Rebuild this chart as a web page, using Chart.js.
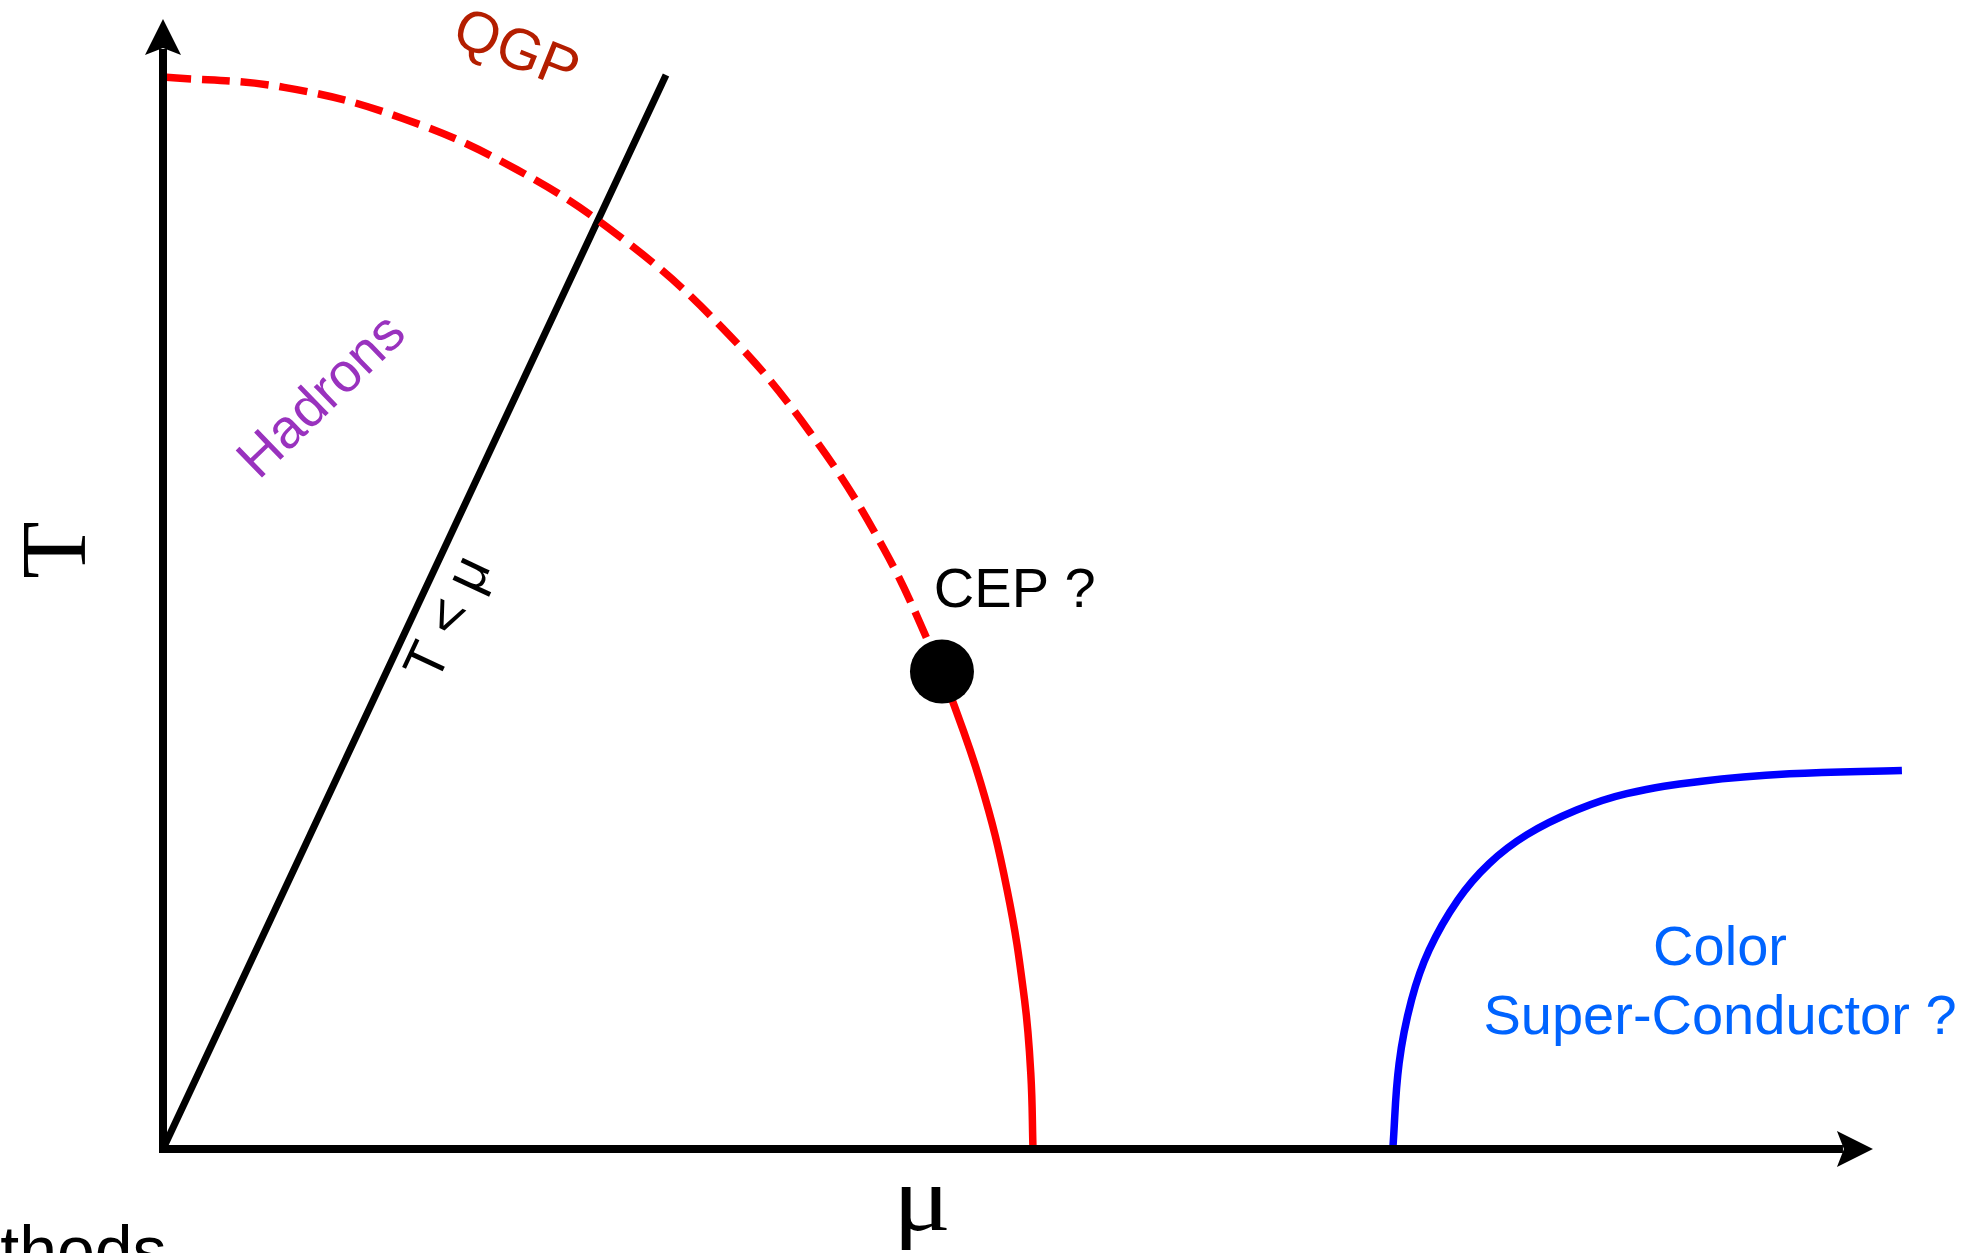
<!DOCTYPE html>
<html>
<head>
<meta charset="utf-8">
<title>QCD phase diagram</title>
<script src="https://cdn.jsdelivr.net/npm/chart.js@4/dist/chart.umd.min.js"></script>
<style>
  html, body { margin: 0; padding: 0; background: #ffffff; overflow: hidden; }
  #wrap { position: relative; width: 1962px; height: 1253px; }
</style>
</head>
<body>
<div id="wrap"><canvas id="phase" width="1962" height="1253"></canvas></div>
<script>
// Crossover line (dashed), from mu = 0 down to the critical end point
const crossoverMu = [0, 6.73, 13.33, 19.67, 25.63, 31.09, 35.94, 40.09, 43.30];
const crossoverT  = [94.87, 93.95, 91.20, 86.67, 80.45, 72.67, 63.48, 53.05, 42.25];

// First-order transition line (solid), from the critical end point to T = 0
const firstOrderMu = [43.30, 45.44, 46.92, 47.89, 48.24, 48.36];
const firstOrderT  = [42.25, 32.45, 22.95, 13.21, 6.62, 0];

// Critical end point
const cepMu = [43.30];
const cepT  = [42.25];

// T = mu reference line
const diagMu = [0, 27.96];
const diagT  = [0, 95.04];

// Colour super-conductor boundary
const cscMu = [68.36, 68.71, 69.40, 70.38, 71.98, 73.71, 75.80, 78.58, 81.36, 85.54, 90.41, 96.66];
const cscT  = [0, 7.58, 13.19, 17.61, 22.05, 25.25, 27.8, 30.0, 31.45, 32.55, 33.2, 33.5];

// Axis extents (arrow tips)
const axisMuEnd = 95.05;
const axisTEnd = 100;

function pts(xs, ys) { return xs.map((x, i) => ({ x: x, y: ys[i] })); }

const SANS = '"Liberation Sans", Arial, Helvetica, sans-serif';
const SERIF = '"Liberation Serif", "Times New Roman", serif';

// Text annotations, anchored in (mu, T) coordinates
const annotations = [
  { text: 'QGP', mu: 19.6, t: 97.1, angle: 22, color: '#b41e00', font: '58px ' + SANS, align: 'center', base: 'middle' },
  { text: 'Hadrons', mu: 8.89, t: 66.5, angle: -44, color: '#9932be', font: '55px ' + SANS, align: 'center', base: 'middle' },
  { text: 'T < \u03bc', mu: 15.95, t: 46.9, angle: -65, color: '#000000', font: '56px ' + SANS, align: 'center', base: 'middle' },
  { text: 'CEP ?', mu: 42.85, t: 48.0, angle: 0, color: '#000000', font: '56px ' + SANS, align: 'left', base: 'alphabetic' },
  { text: 'Color', mu: 86.55, t: 16.25, angle: 0, color: '#0064ff', font: '56px ' + SANS, align: 'center', base: 'alphabetic' },
  { text: 'Super-Conductor ?', mu: 86.55, t: 10.2, angle: 0, color: '#0064ff', font: '56px ' + SANS, align: 'center', base: 'alphabetic' },
  { text: 'T', mu: -5.7, t: 53.0, angle: -90, color: '#000000', font: '94px ' + SERIF, align: 'center', base: 'middle' },
  { text: '\u03bc', mu: 42.19, t: -7.2, angle: 0, color: '#000000', font: '94px ' + SERIF, align: 'center', base: 'alphabetic', stretch: 1.15 },
  { text: 'Methods', mu: 0.2, t: -11.06, angle: 0, color: '#000000', font: '68px ' + SANS, align: 'right', base: 'alphabetic' }
];

// Axes with arrow heads, and the text labels
const axesAndLabels = {
  id: 'axesAndLabels',
  afterDatasetsDraw(chart) {
    const ctx = chart.ctx;
    const xs = chart.scales.x, ys = chart.scales.y;
    const ox = xs.getPixelForValue(0), oy = ys.getPixelForValue(0);
    const xTip = xs.getPixelForValue(axisMuEnd), yTip = ys.getPixelForValue(axisTEnd);
    ctx.save();
    ctx.strokeStyle = '#000';
    ctx.fillStyle = '#000';
    ctx.lineWidth = 8;
    ctx.lineCap = 'butt';
    // T axis
    ctx.beginPath();
    ctx.moveTo(ox, oy + 4);
    ctx.lineTo(ox, yTip + 30);
    ctx.stroke();
    ctx.beginPath();
    ctx.moveTo(ox, yTip);
    ctx.lineTo(ox + 18, yTip + 36);
    ctx.lineTo(ox, yTip + 29);
    ctx.lineTo(ox - 18, yTip + 36);
    ctx.closePath();
    ctx.fill();
    // mu axis
    ctx.beginPath();
    ctx.moveTo(ox - 4, oy);
    ctx.lineTo(xTip - 30, oy);
    ctx.stroke();
    ctx.beginPath();
    ctx.moveTo(xTip, oy);
    ctx.lineTo(xTip - 36, oy - 18);
    ctx.lineTo(xTip - 29, oy);
    ctx.lineTo(xTip - 36, oy + 18);
    ctx.closePath();
    ctx.fill();
    ctx.restore();
  },
  afterDraw(chart) {
    const ctx = chart.ctx;
    const xs = chart.scales.x, ys = chart.scales.y;
    annotations.forEach(a => {
      ctx.save();
      ctx.translate(xs.getPixelForValue(a.mu), ys.getPixelForValue(a.t));
      ctx.rotate(a.angle * Math.PI / 180);
      if (a.stretch) ctx.scale(a.stretch, 1);
      ctx.font = a.font;
      ctx.fillStyle = a.color;
      ctx.textAlign = a.align;
      ctx.textBaseline = a.base;
      ctx.fillText(a.text, 0, 0);
      ctx.restore();
    });
  }
};

new Chart(document.getElementById('phase'), {
  type: 'scatter',
  data: {
    datasets: [
      {
        label: 'CEP',
        data: pts(cepMu, cepT),
        showLine: false,
        pointRadius: 32,
        pointHoverRadius: 32,
        pointBackgroundColor: '#000000',
        pointBorderWidth: 0,
        order: 0,
        clip: false
      },
      {
        label: 'crossover',
        data: pts(crossoverMu, crossoverT),
        showLine: true,
        borderColor: '#ff0000',
        borderWidth: 7.5,
        borderDash: [28, 11],
        borderCapStyle: 'butt',
        pointRadius: 0,
        tension: 0.4,
        order: 2,
        clip: false
      },
      {
        label: 'first order',
        data: pts(firstOrderMu, firstOrderT),
        showLine: true,
        borderColor: '#ff0000',
        borderWidth: 7.5,
        borderCapStyle: 'butt',
        pointRadius: 0,
        tension: 0.4,
        order: 2,
        clip: false
      },
      {
        label: 'T = mu',
        data: pts(diagMu, diagT),
        showLine: true,
        borderColor: '#000000',
        borderWidth: 7,
        borderCapStyle: 'butt',
        pointRadius: 0,
        order: 3,
        clip: false
      },
      {
        label: 'CSC',
        data: pts(cscMu, cscT),
        showLine: true,
        borderColor: '#0000ff',
        borderWidth: 7.5,
        borderCapStyle: 'butt',
        pointRadius: 0,
        tension: 0.4,
        order: 2,
        clip: false
      }
    ]
  },
  options: {
    responsive: false,
    animation: false,
    events: [],
    layout: { autoPadding: false, padding: { left: 163, right: 0, top: 19, bottom: 104 } },
    scales: {
      x: { type: 'linear', min: 0, max: 100, display: false },
      y: { type: 'linear', min: 0, max: 100, display: false }
    },
    plugins: {
      legend: { display: false },
      tooltip: { enabled: false },
      title: { display: false }
    }
  },
  plugins: [axesAndLabels]
});
</script>
</body>
</html>
